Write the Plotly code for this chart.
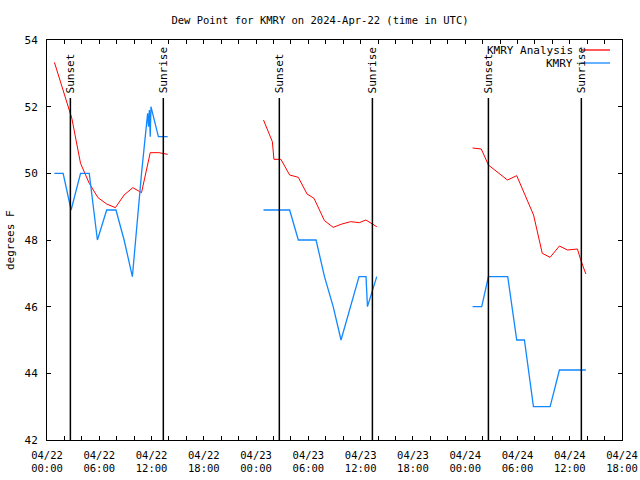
import plotly.graph_objects as go
from datetime import datetime, timedelta

# ---------------- data ----------------
# KMRY Analysis (red), three daily segments
ana_t1 = ["2024-04-22 00:51", "2024-04-22 01:51", "2024-04-22 02:51", "2024-04-22 03:51",
          "2024-04-22 04:51", "2024-04-22 05:51", "2024-04-22 06:51", "2024-04-22 07:51",
          "2024-04-22 08:51", "2024-04-22 09:51", "2024-04-22 10:51", "2024-04-22 11:51",
          "2024-04-22 12:51", "2024-04-22 13:51"]
ana_v1 = [53.33, 52.5, 51.65, 50.3, 49.7, 49.27, 49.08, 48.97, 49.35, 49.57, 49.42, 50.62, 50.62, 50.57]

ana_t2 = ["2024-04-23 00:51", "2024-04-23 01:24", "2024-04-23 01:52", "2024-04-23 02:03",
          "2024-04-23 02:51", "2024-04-23 03:51", "2024-04-23 04:51", "2024-04-23 05:51",
          "2024-04-23 06:39", "2024-04-23 07:51", "2024-04-23 08:51", "2024-04-23 09:51",
          "2024-04-23 10:51", "2024-04-23 11:51", "2024-04-23 12:36", "2024-04-23 13:51"]
ana_v2 = [51.6, 51.25, 50.95, 50.42, 50.42, 49.95, 49.88, 49.38, 49.25, 48.58, 48.38, 48.48,
          48.55, 48.52, 48.6, 48.4]

ana_t3 = ["2024-04-24 00:51", "2024-04-24 01:51", "2024-04-24 02:40", "2024-04-24 03:26",
          "2024-04-24 04:51", "2024-04-24 05:55", "2024-04-24 06:51", "2024-04-24 07:51",
          "2024-04-24 08:51", "2024-04-24 09:45", "2024-04-24 10:49", "2024-04-24 11:45",
          "2024-04-24 12:53", "2024-04-24 13:16", "2024-04-24 13:51"]
ana_v3 = [50.76, 50.73, 50.25, 50.1, 49.8, 49.93, 49.38, 48.75, 47.6, 47.48, 47.82, 47.7,
          47.73, 47.4, 46.98]

# KMRY observations (blue)
obs_t1 = ["2024-04-22 00:51", "2024-04-22 01:51", "2024-04-22 02:46", "2024-04-22 03:51",
          "2024-04-22 04:51", "2024-04-22 05:47", "2024-04-22 06:51", "2024-04-22 07:55",
          "2024-04-22 08:51", "2024-04-22 09:48", "2024-04-22 10:51", "2024-04-22 11:33",
          "2024-04-22 11:39", "2024-04-22 11:45", "2024-04-22 11:51", "2024-04-22 11:56",
          "2024-04-22 12:47", "2024-04-22 13:51"]
obs_v1 = [50.0, 50.0, 48.9, 50.0, 50.0, 48.0, 48.9, 48.9, 48.0, 46.9, 50.0, 51.8, 51.4, 51.9,
          51.1, 52.0, 51.1, 51.1]

obs_t2 = ["2024-04-23 00:51", "2024-04-23 01:51", "2024-04-23 02:51", "2024-04-23 03:51",
          "2024-04-23 04:51", "2024-04-23 05:51", "2024-04-23 06:53", "2024-04-23 07:51",
          "2024-04-23 08:51", "2024-04-23 09:45", "2024-04-23 10:51", "2024-04-23 11:49",
          "2024-04-23 12:37", "2024-04-23 12:47", "2024-04-23 13:51"]
obs_v2 = [48.9, 48.9, 48.9, 48.9, 48.0, 48.0, 48.0, 46.9, 46.0, 45.0, 46.0, 46.9, 46.9, 46.0, 46.9]

obs_t3 = ["2024-04-24 00:51", "2024-04-24 01:54", "2024-04-24 02:40", "2024-04-24 03:51",
          "2024-04-24 04:53", "2024-04-24 05:55", "2024-04-24 06:48", "2024-04-24 07:50",
          "2024-04-24 08:51", "2024-04-24 09:45", "2024-04-24 10:49", "2024-04-24 11:51",
          "2024-04-24 12:51", "2024-04-24 13:51"]
obs_v3 = [46.0, 46.0, 46.9, 46.9, 46.9, 45.0, 45.0, 43.0, 43.0, 43.0, 44.1, 44.1, 44.1, 44.1]

sunsets = ["2024-04-22 02:41", "2024-04-23 02:40", "2024-04-24 02:40"]
sunrises = ["2024-04-22 13:21", "2024-04-23 13:21", "2024-04-24 13:20"]

y_ticks = [42, 44, 46, 48, 50, 52, 54]
title_text = "Dew Point for KMRY on 2024-Apr-22 (time in UTC)"

# ---------------- figure ----------------
FONT = "DejaVu Sans Mono"
FS = 10
RED = "#ff0000"
BLUE = "#1188ff"

W, H = 640, 480
L, R, T, B = 47, 622, 40, 440
pw, ph = R - L, B - T


def join(*segs):
    xs, ys = [], []
    for t, v in segs:
        if xs:
            xs.append(None)
            ys.append(None)
        xs.extend(t)
        ys.extend(v)
    return xs, ys


ax, ay = join((ana_t1, ana_v1), (ana_t2, ana_v2), (ana_t3, ana_v3))
ox, oy = join((obs_t1, obs_v1), (obs_t2, obs_v2), (obs_t3, obs_v3))

fig = go.Figure()
fig.add_trace(go.Scatter(x=ax, y=ay, mode="lines", name="KMRY Analysis",
                         line=dict(color=RED, width=1), connectgaps=False))
fig.add_trace(go.Scatter(x=ox, y=oy, mode="lines", name="KMRY",
                         line=dict(color=BLUE, width=1.3), connectgaps=False))

line_top = 52.26
shapes = []
annotations = []
for t, label in [(s, "Sunset") for s in sunsets] + [(s, "Sunrise") for s in sunrises]:
    shapes.append(dict(type="line", xref="x", yref="y", x0=t, x1=t, y0=42, y1=line_top,
                       line=dict(color="black", width=1.5)))
    annotations.append(dict(x=t, y=line_top, xref="x", yref="y", text=label, showarrow=False,
                            textangle=-90, yanchor="bottom", xanchor="center", yshift=3,
                            font=dict(family=FONT, size=FS + 1, color="black")))

# x ticks every 2 hours, labelled every 6 hours
start = datetime(2024, 4, 22, 0, 0)
tickvals, ticktext = [], []
for h in range(0, 67, 2):
    d = start + timedelta(hours=h)
    tickvals.append(d.strftime("%Y-%m-%d %H:%M"))
    ticktext.append(d.strftime("%m/%d<br>%H:%M") if h % 6 == 0 else "")

# legend (gnuplot style: text right, sample to its right)
for i, (name, col) in enumerate([("KMRY Analysis", RED), ("KMRY", BLUE)]):
    yy = 1 - (50 + 13 * i - T) / ph
    annotations.append(dict(x=(575 - L) / pw, y=yy, xref="paper", yref="paper", text=name,
                            showarrow=False, xanchor="right", yanchor="middle",
                            font=dict(family=FONT, size=FS + 1, color="black")))
    shapes.append(dict(type="line", xref="paper", yref="paper", x0=(581 - L) / pw,
                       x1=(610 - L) / pw, y0=yy, y1=yy, line=dict(color=col, width=1.3)))

annotations.append(dict(x=(10 - L) / pw, y=0.5, xref="paper", yref="paper", text="degrees F",
                        showarrow=False, textangle=-90, xanchor="center", yanchor="middle",
                        font=dict(family=FONT, size=FS + 1, color="black")))

fig.update_layout(
    width=W, height=H,
    margin=dict(l=L, r=W - R, t=T, b=H - B, autoexpand=False),
    paper_bgcolor="white", plot_bgcolor="white",
    showlegend=False,
    title=dict(text=title_text, x=0.5, xanchor="center", y=1 - 20 / H, yanchor="middle",
               yref="container", font=dict(family=FONT, size=FS + 0.5, color="black")),
    shapes=shapes, annotations=annotations,
    font=dict(family=FONT, size=FS, color="black"),
)
fig.update_xaxes(type="date", range=["2024-04-22 00:00", "2024-04-24 18:00"],
                 tickmode="array", tickvals=tickvals, ticktext=ticktext,
                 ticks="inside", ticklen=4, tickcolor="black", showgrid=False, zeroline=False,
                 showline=True, linecolor="black", linewidth=1, mirror="ticks",
                 ticklabelstandoff=5,
                 tickfont=dict(family=FONT, size=FS + 0.5, color="black"), automargin=False)
fig.update_yaxes(range=[42, 54], tickmode="array", tickvals=y_ticks,
                 ticktext=[str(v) for v in y_ticks],
                 ticks="inside", ticklen=4, tickcolor="black", showgrid=False, zeroline=False,
                 showline=True, linecolor="black", linewidth=1, mirror="ticks",
                 ticklabelstandoff=6,
                 tickfont=dict(family=FONT, size=FS + 1, color="black"), automargin=False)

# remove the browser's default 8px body margin so the 640x480 figure fills the window
fig.write_html("out.html", config={"displayModeBar": False},
               post_script="document.body.style.margin='0px';")
